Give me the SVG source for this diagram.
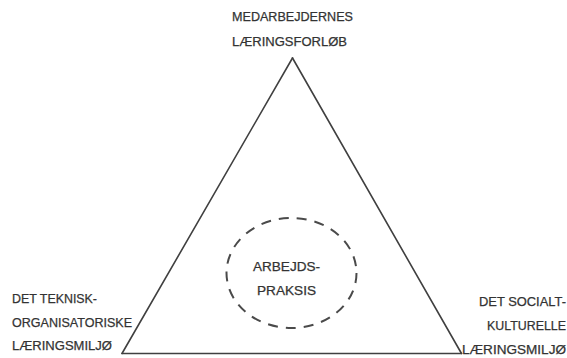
<svg xmlns="http://www.w3.org/2000/svg" width="567" height="358" viewBox="0 0 567 358">
  <style>
    .lbl { font-family: "Liberation Sans", "DejaVu Sans", sans-serif; font-size: 12.5px; fill: #333333; stroke: #333333; stroke-width: 0.25; }
    .edge { stroke: #404040; stroke-width: 1.6; fill: none; stroke-linecap: round; }
    .ring { stroke: #4a4a4a; stroke-width: 2; fill: none; stroke-dasharray: 10 8; }
  </style>
  <rect width="567" height="358" fill="#ffffff"/>

  <!-- triangle sides linking the three corners -->
  <g id="connectors">
    <line class="edge" x1="292.5" y1="58" x2="122" y2="353.5"/>
    <line class="edge" x1="292.5" y1="58" x2="461.5" y2="353.5"/>
    <line class="edge" x1="122" y1="353.5" x2="461.5" y2="353.5" stroke-width="2"/>
  </g>

  <g id="node-top">
    <text class="lbl" x="232" y="21" textLength="121" lengthAdjust="spacingAndGlyphs">MEDARBEJDERNES</text>
    <text class="lbl" x="232" y="45.5" textLength="115" lengthAdjust="spacingAndGlyphs">LÆRINGSFORLØB</text>
  </g>

  <g id="node-left">
    <text class="lbl" x="12" y="302.5" textLength="85" lengthAdjust="spacingAndGlyphs">DET TEKNISK-</text>
    <text class="lbl" x="12" y="326.5" textLength="120" lengthAdjust="spacingAndGlyphs">ORGANISATORISKE</text>
    <text class="lbl" x="12" y="350" textLength="100" lengthAdjust="spacingAndGlyphs">LÆRINGSMILJØ</text>
  </g>

  <g id="node-right">
    <text class="lbl" x="479" y="306" textLength="87" lengthAdjust="spacingAndGlyphs">DET SOCIALT-</text>
    <text class="lbl" x="487" y="329.5" textLength="79" lengthAdjust="spacingAndGlyphs">KULTURELLE</text>
    <text class="lbl" x="462" y="354" textLength="104" lengthAdjust="spacingAndGlyphs">LÆRINGSMILJØ</text>
  </g>

  <g id="node-center">
    <ellipse class="ring" cx="291.5" cy="273" rx="65" ry="55"/>
    <text class="lbl" x="253" y="271" textLength="67" lengthAdjust="spacingAndGlyphs">ARBEJDS-</text>
    <text class="lbl" x="257" y="295" textLength="59" lengthAdjust="spacingAndGlyphs">PRAKSIS</text>
  </g>
</svg>
